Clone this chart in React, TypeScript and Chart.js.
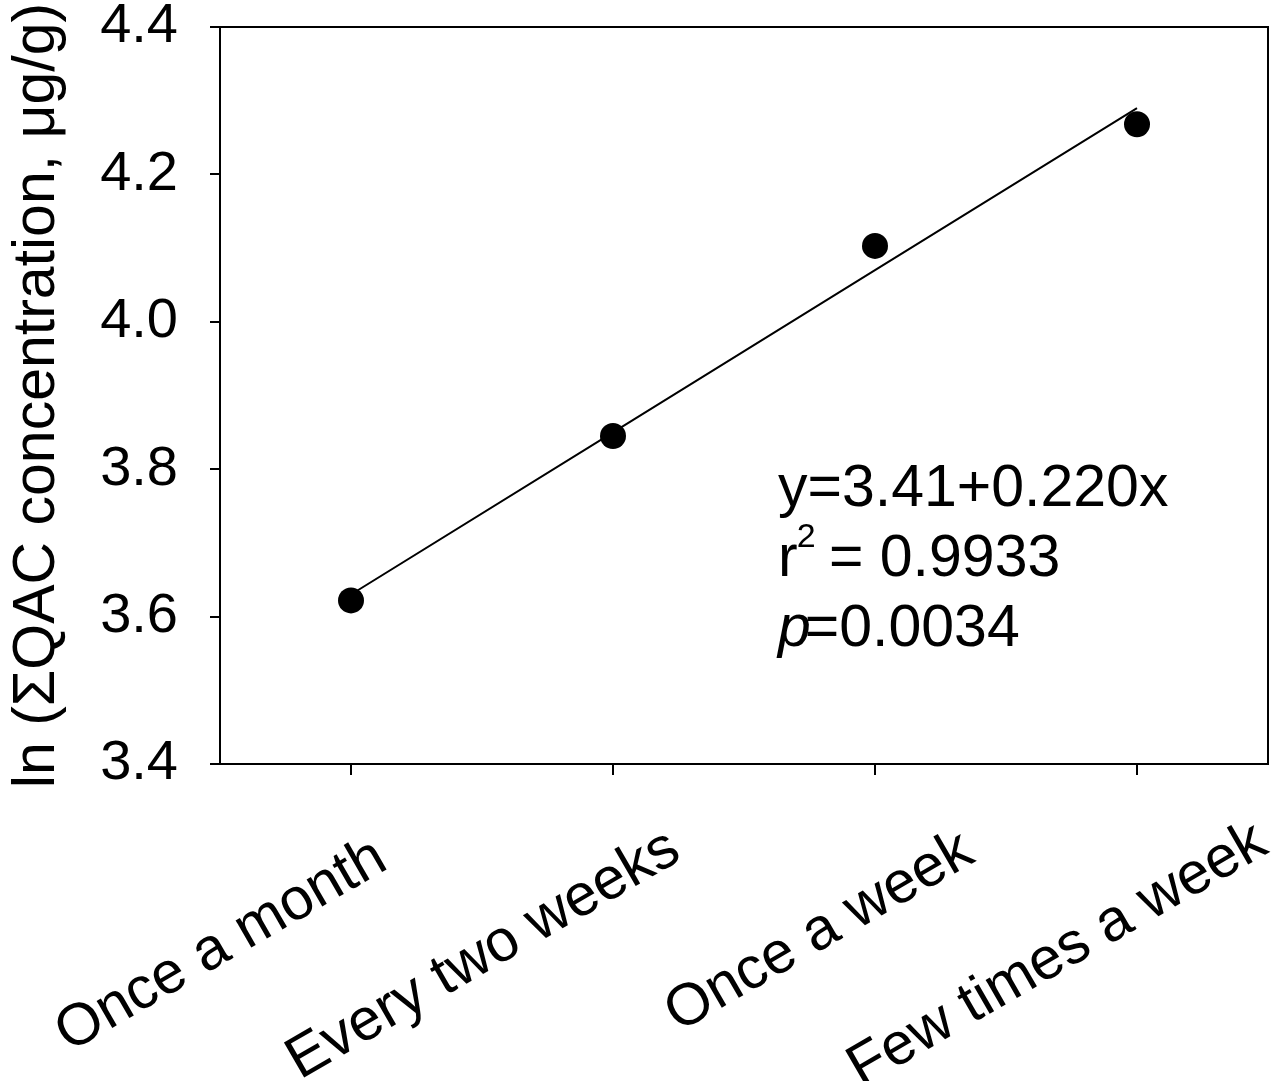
import React, { useEffect, useRef } from "react";
import { Chart, registerables } from "chart.js";

Chart.register(...registerables);

const categories = ["Once a month", "Every two weeks", "Once a week", "Few times a week"];
const observed = [3.622, 3.845, 4.103, 4.268];
const fitted = [3.63, 3.85, 4.07, 4.29];
const yTicks = [3.4, 3.6, 3.8, 4.0, 4.2, 4.4];
const yTitle = "ln (\u03A3QAC concentration, \u03BCg/g)";
const eqLine = "y=3.41+0.220x";
const r2Value = " = 0.9933";
const pValue = "=0.0034";

const FONT = "'Liberation Sans', Arial, Helvetica, sans-serif";
// per-label line heights (small vertical nudges of the rotated labels)
const labelLineHeights = [1.27, 0.92, 1.0, 0.65];

const framePlugin = {
  id: "frame",
  afterDraw(chart: any) {
    const { ctx, chartArea } = chart;
    ctx.save();
    ctx.strokeStyle = "#000";
    ctx.lineWidth = 2;
    ctx.beginPath();
    ctx.moveTo(chartArea.left, chartArea.top);
    ctx.lineTo(chartArea.right, chartArea.top);
    ctx.lineTo(chartArea.right, chartArea.bottom);
    ctx.stroke();

    // annotation text
    const x0 = chartArea.left + 558;
    const b1 = 506;
    ctx.fillStyle = "#000";
    ctx.textBaseline = "alphabetic";
    ctx.textAlign = "left";
    ctx.font = `59px ${FONT}`;
    ctx.fillText(eqLine, x0, b1);
    // r^2 line
    ctx.fillText("r", x0, b1 + 70);
    const rW = ctx.measureText("r").width;
    ctx.font = `34px ${FONT}`;
    ctx.fillText("2", x0 + rW - 1, b1 + 70 - 29);
    const twoW = ctx.measureText("2").width;
    ctx.font = `59px ${FONT}`;
    ctx.fillText(r2Value, x0 + rW + twoW - 4, b1 + 70);
    // p line
    ctx.font = `italic 59px ${FONT}`;
    ctx.fillText("p", x0, b1 + 140);
    const pW = ctx.measureText("p").width;
    ctx.font = `59px ${FONT}`;
    ctx.fillText(pValue, x0 + pW - 6, b1 + 140);
    ctx.restore();
  },
};

function zeroPad(scale: any) {
  scale.paddingLeft = 0;
  scale.paddingRight = 0;
  scale.paddingTop = 0;
  scale.paddingBottom = 0;
}

export default function App() {
  const ref = useRef<HTMLCanvasElement>(null);
  useEffect(() => {
    if (!ref.current) return;
    Chart.defaults.font.family = FONT;
    Chart.defaults.color = "#000";
    const chart = new Chart(ref.current, {
      type: "line",
      data: {
        labels: categories,
        datasets: [
          {
            label: "observed",
            data: observed,
            showLine: false,
            pointRadius: 13,
            pointHoverRadius: 13,
            pointBackgroundColor: "#000",
            pointBorderColor: "#000",
            pointBorderWidth: 0,
            borderColor: "#000",
            backgroundColor: "#000",
          },
          {
            label: "fit",
            data: fitted,
            borderColor: "#000",
            borderWidth: 2,
            pointRadius: 0,
            fill: false,
            tension: 0,
          },
        ],
      },
      options: {
        responsive: false,
        animation: false,
        events: [],
        layout: { padding: { top: 27, right: 11, left: 0, bottom: 0 } },
        plugins: {
          legend: { display: false },
          tooltip: { enabled: false },
          title: { display: false },
        },
        scales: {
          x: {
            type: "category",
            position: "bottom",
            offset: true,
            border: { display: true, color: "#000", width: 2 },
            grid: {
              display: true,
              drawOnChartArea: false,
              drawTicks: true,
              tickLength: 11,
              color: "#000",
              lineWidth: 2,
              offset: false,
            },
            ticks: { display: false },
            afterFit(scale: any) {
              scale.height = 0;
              zeroPad(scale);
            },
          },
          xLabels: {
            type: "linear",
            position: "bottom",
            min: -0.551,
            max: 3.02,
            border: { display: false },
            grid: { display: false, drawTicks: false },
            afterBuildTicks(scale: any) {
              scale.ticks = categories.map((_, i) => ({ value: i }));
            },
            ticks: {
              autoSkip: false,
              maxRotation: 30,
              minRotation: 30,
              padding: 57,
              color: "#000",
              font: (ctx: any) => ({
                size: 59,
                family: FONT,
                lineHeight: labelLineHeights[ctx.index] ?? 1,
              }),
              callback: (v: any) => categories[Math.round(Number(v))],
            },
            afterFit(scale: any) {
              scale.height = 317;
              zeroPad(scale);
            },
          },
          y: {
            type: "linear",
            min: 3.4,
            max: 4.4,
            border: { display: true, color: "#000", width: 2 },
            grid: {
              display: true,
              drawOnChartArea: false,
              drawTicks: true,
              tickLength: 10,
              color: "#000",
              lineWidth: 2,
            },
            afterBuildTicks(scale: any) {
              scale.ticks = yTicks.map((v) => ({ value: v }));
            },
            ticks: {
              padding: 32,
              color: "#000",
              font: { size: 56, family: FONT, lineHeight: 0.9 },
              callback: (v: any) => Number(v).toFixed(1),
            },
            title: {
              display: true,
              text: yTitle,
              color: "#000",
              padding: { top: 2, bottom: 0 },
              font: { size: 59, family: FONT, lineHeight: 1.2 },
            },
            afterFit(scale: any) {
              scale.width = 220;
              zeroPad(scale);
            },
          },
        },
      },
      plugins: [framePlugin],
    });
    return () => chart.destroy();
  }, []);
  return (
    <canvas
      ref={ref}
      width={1281}
      height={1081}
      style={{ position: "fixed", left: 0, top: 0, display: "block", background: "#fff" }}
    />
  );
}
